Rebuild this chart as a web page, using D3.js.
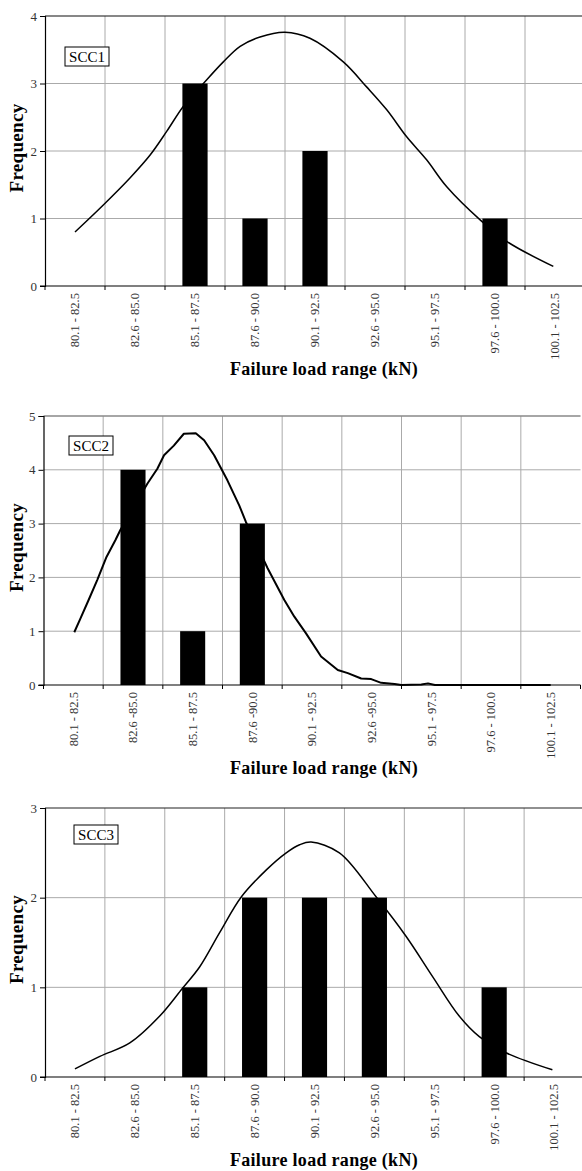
<!DOCTYPE html>
<html>
  <head>
    <meta charset="utf-8" />
    <style>
      body { margin: 0; background: #fff; }
      text { font-family: "Liberation Serif", "DejaVu Serif", serif; }
    </style>
  </head>
  <body>

<svg id="graph"></svg>

<script src="https://d3js.org/d3.v7.min.js"></script>
<script>
  const WIDTH = 582;
  const HEIGHT = 1171;

  // categories (failure load ranges)
  const CATS = ['80.1 - 82.5', '82.6 - 85.0', '85.1 - 87.5', '87.6 - 90.0', '90.1 - 92.5',
                '92.6 - 95.0', '95.1 - 97.5', '97.6 - 100.0', '100.1 - 102.5'];
  const CATS_SCC2 = ['80.1 - 82.5', '82.6 -85.0', '85.1 - 87.5', '87.6 -90.0', '90.1 - 92.5',
                     '92.6 -95.0', '95.1 - 97.5', '97.6 - 100.0', '100.1 - 102.5'];

  // bar frequencies
  const FREQ_SCC1 = [0, 0, 3, 1, 2, 0, 0, 1, 0];
  const FREQ_SCC2 = [0, 4, 1, 3, 0, 0, 0, 0, 0];
  const FREQ_SCC3 = [0, 0, 1, 2, 2, 2, 0, 1, 0];

  // fitted curves : load (kN) and frequency
  const CURVE1_X = [81.3, 82.48, 83.59, 84.43, 85.12, 85.81, 86.65, 87.48, 88.18, 89.01, 90.05,
                    91.09, 92.48, 93.45, 94.29, 95.12, 95.95, 96.79, 98.18, 99.29, 101.23];
  const CURVE1_Y = [0.80, 1.20, 1.60, 1.94, 2.29, 2.66, 3.00, 3.32, 3.55, 3.69, 3.76,
                    3.67, 3.32, 2.95, 2.61, 2.21, 1.87, 1.47, 0.98, 0.66, 0.29];

  const CURVE2_X = [81.34, 81.6, 81.94, 82.3, 82.69, 83.06, 83.27, 84.4, 84.82, 85.1, 85.51, 85.93,
                    86.43, 86.78, 87.2, 87.76, 88.25, 88.53, 89.44, 90.14, 90.56, 91.05, 91.68,
                    92.38, 92.8, 93.36, 93.78, 94.2, 94.76, 95.04, 95.88, 96.16, 96.45, 101.3];
  const CURVE2_Y = [0.98, 1.24, 1.58, 1.95, 2.38, 2.69, 2.88, 3.74, 4.02, 4.27, 4.45, 4.67,
                    4.68, 4.55, 4.27, 3.80, 3.34, 3.03, 2.17, 1.58, 1.27, 0.96, 0.53,
                    0.28, 0.22, 0.12, 0.11, 0.04, 0.02, 0, 0.01, 0.03, 0, 0];

  const CURVE3_X = [81.3, 82.34, 83.59, 84.84, 85.79, 86.51, 87.34, 88.25, 89.29, 90.12, 90.68,
                    91.16, 92.34, 93.87, 95.12, 96.23, 97.34, 98.18, 99.29, 101.23];
  const CURVE3_Y = [0.09, 0.23, 0.38, 0.68, 0.99, 1.23, 1.61, 2.01, 2.31, 2.50, 2.59,
                    2.62, 2.50, 2.01, 1.57, 1.12, 0.68, 0.45, 0.27, 0.08];

  const LOAD_MIN = 80.05, LOAD_MAX = 102.55;

  const svg = d3.select('#graph').attr('width', WIDTH).attr('height', HEIGHT);

  function drawPanel(p) {
    const g = svg.append('g');
    const left = p.left, right = p.left + p.width;

    const grid = d3.scaleBand().domain(p.cats).range([left, right]);
    const x = d3.scaleBand().domain(p.cats).range([left, right])
      .paddingInner(0.58).paddingOuter(0.29);
    const xLoad = d3.scaleLinear().domain([LOAD_MIN, LOAD_MAX]).range([left, right]);
    const y = d3.scaleLinear().domain([0, p.yMax]).range([p.bottom, p.top]);

    // horizontal grid
    g.selectAll('.hgrid')
      .data(d3.range(1, p.yMax))
      .enter().append('line')
      .attr('x1', left).attr('x2', right)
      .attr('y1', d => y(d)).attr('y2', d => y(d))
      .attr('stroke', '#aaa').attr('stroke-width', 1);

    // vertical grid
    g.selectAll('.vgrid')
      .data(p.cats.slice(1))
      .enter().append('line')
      .attr('x1', d => grid(d)).attr('x2', d => grid(d))
      .attr('y1', p.top).attr('y2', p.bottom)
      .attr('stroke', '#aaa').attr('stroke-width', 1);

    // top border
    g.append('line')
      .attr('x1', left).attr('x2', right)
      .attr('y1', y(p.yMax)).attr('y2', y(p.yMax))
      .attr('stroke', p.topColor).attr('stroke-width', p.topWidth);

    // fitted curve
    const pts = p.curveX.map((v, i) => [v, p.curveY[i]]);
    g.append('path')
      .datum(pts)
      .attr('fill', 'none')
      .attr('stroke', '#000')
      .attr('stroke-width', p.curveWidth)
      .attr('stroke-linejoin', 'round')
      .attr('d', d3.line()
        .x(d => xLoad(d[0]))
        .y(d => y(d[1]))
        .curve(p.smooth ? d3.curveCatmullRom.alpha(0.5) : d3.curveLinear));

    // bars
    g.selectAll('.bar')
      .data(p.freq)
      .enter().append('rect')
      .attr('x', (d, i) => x(p.cats[i]))
      .attr('width', x.bandwidth())
      .attr('y', d => y(d))
      .attr('height', d => p.bottom - y(d))
      .attr('fill', '#000');

    // y axis
    const yAxis = g.append('g')
      .attr('transform', `translate(${left},0)`)
      .call(d3.axisLeft(y).ticks(p.yMax).tickSize(5).tickPadding(3).tickFormat(d3.format('d')));
    yAxis.select('.domain').attr('stroke', '#000').attr('stroke-width', 1.2);
    yAxis.selectAll('.tick line').attr('stroke', '#000');
    yAxis.selectAll('.tick text')
      .attr('font-family', '"Liberation Serif", serif')
      .attr('font-size', 13).attr('fill', '#333');

    // x axis line and ticks at category boundaries
    g.append('line')
      .attr('x1', left - 5).attr('x2', right)
      .attr('y1', p.bottom).attr('y2', p.bottom)
      .attr('stroke', '#000').attr('stroke-width', 1.2);
    g.selectAll('.xtick')
      .data(p.cats)
      .enter().append('line')
      .attr('x1', d => grid(d)).attr('x2', d => grid(d))
      .attr('y1', p.bottom).attr('y2', p.bottom + 4)
      .attr('stroke', '#000');
    g.selectAll('.xtick2')
      .data(p.cats.slice(-1))
      .enter().append('line')
      .attr('x1', d => grid(d) + grid.bandwidth()).attr('x2', d => grid(d) + grid.bandwidth())
      .attr('y1', p.bottom).attr('y2', p.bottom + 4)
      .attr('stroke', '#000');

    // x tick labels
    g.selectAll('.xlab')
      .data(p.cats)
      .enter().append('text')
      .attr('transform', d => `translate(${grid(d) + grid.bandwidth() / 2},${p.bottom + 7}) rotate(-90)`)
      .attr('text-anchor', 'end')
      .attr('dy', '0.35em')
      .attr('font-size', 12.5)
      .attr('fill', '#333')
      .text(d => d);

    // axis titles
    g.append('text')
      .attr('x', 324).attr('y', p.bottom + 89)
      .attr('text-anchor', 'middle')
      .attr('font-size', 18).attr('font-weight', 'bold')
      .attr('letter-spacing', 0.3)
      .text('Failure load range (kN)');
    g.append('text')
      .attr('transform', `translate(23,${(p.top + p.bottom) / 2 - 3}) rotate(-90)`)
      .attr('text-anchor', 'middle')
      .attr('font-size', 19).attr('font-weight', 'bold')
      .attr('letter-spacing', 0.3)
      .text('Frequency');

    // series label box
    g.append('rect')
      .attr('x', p.boxX).attr('y', p.boxY)
      .attr('width', 44).attr('height', 19)
      .attr('fill', '#fff').attr('stroke', '#000').attr('stroke-width', 1);
    g.append('text')
      .attr('x', p.boxX + 22).attr('y', p.boxY + 15)
      .attr('text-anchor', 'middle')
      .attr('font-size', 15)
      .text(p.name);
  }

  drawPanel({ name: 'SCC1', cats: CATS, freq: FREQ_SCC1, curveX: CURVE1_X, curveY: CURVE1_Y,
              left: 45, width: 540, top: 16, bottom: 286, yMax: 4, smooth: true, curveWidth: 1.5,
              topColor: '#111', topWidth: 1.2, boxX: 65, boxY: 47 });
  drawPanel({ name: 'SCC2', cats: CATS_SCC2, freq: FREQ_SCC2, curveX: CURVE2_X, curveY: CURVE2_Y,
              left: 43.5, width: 537, top: 416, bottom: 685, yMax: 5, smooth: false, curveWidth: 2,
              topColor: '#888', topWidth: 1.6, boxX: 69, boxY: 436 });
  drawPanel({ name: 'SCC3', cats: CATS, freq: FREQ_SCC3, curveX: CURVE3_X, curveY: CURVE3_Y,
              left: 45, width: 539, top: 808, bottom: 1077, yMax: 3, smooth: true, curveWidth: 1.5,
              topColor: '#222', topWidth: 1.2, boxX: 74, boxY: 825 });
</script>
  </body>
</html>
